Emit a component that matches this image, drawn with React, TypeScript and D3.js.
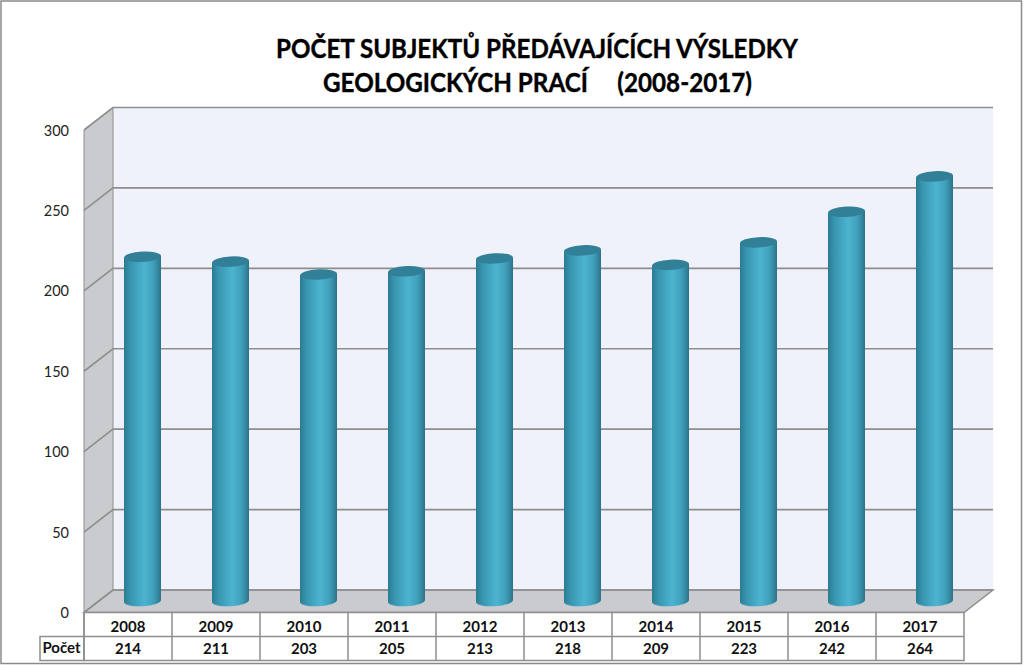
import React from "react";
import * as d3 from "d3";

const years = ["2008","2009","2010","2011","2012","2013","2014","2015","2016","2017"];
const counts = [214,211,203,205,213,218,209,223,242,264];
const ticks = [0,50,100,150,200,250,300];
const titleLines = ["POČET SUBJEKTŮ PŘEDÁVAJÍCÍCH VÝSLEDKY","GEOLOGICKÝCH PRACÍ     (2008-2017)"];
const rowLabel = "Počet";

const W = 1024, H = 665;
const x0 = 84, x1 = 964, y0 = 612.5, yTop = 130, dx = 29, dy = -22.5;
const rowH = 24;
const font = "Lato, Carlito, 'Open Sans', sans-serif";
const gridCol = "#8e8e8e";

export default function App() {
  const x = d3.scaleBand<string>().domain(years).range([x0, x1]);
  const y = d3.scaleLinear().domain([0, 300]).range([y0, yTop]);
  const rx = 18.5, ry = 5.2, tilt = 1;
  const baseOffX = 14.5, baseOffY = -11.5;
  const cell = { fontFamily: font, fontWeight: 700, fontSize: 15, fill: "#111", textAnchor: "middle" as const };
  return (
    <svg width={W} height={H} viewBox={`0 0 ${W} ${H}`}
      style={{ position: "fixed", left: 0, top: 0, display: "block", background: "#fff" }}>
      <defs>
        <linearGradient id="cyl" x1="0" x2="1" y1="0" y2="0">
          <stop offset="0" stopColor="#2b7a92" />
          <stop offset="0.15" stopColor="#3793ae" />
          <stop offset="0.55" stopColor="#4db4d0" />
          <stop offset="0.8" stopColor="#3f9fba" />
          <stop offset="0.96" stopColor="#2f7d94" />
          <stop offset="1" stopColor="#2c7086" />
        </linearGradient>
      </defs>
      <rect x={1} y={1} width={1020.5} height={662.5} fill="#fff" stroke="#8a8a8a" strokeWidth={1.5} />
      <path d={`M${x0 + dx},${y(300) + dy}H${x1 + dx}V${y0 + dy}H${x0 + dx}Z`} fill="#eff2fa" />
      <path d={`M${x0},${y(300)}L${x0 + dx},${y(300) + dy}V${y0 + dy}L${x0},${y0}Z`} fill="#c9cbcf" stroke={gridCol} strokeWidth={1} />
      <path d={`M${x0},${y0}L${x0 + dx},${y0 + dy}H${x1 + dx}L${x1},${y0}Z`} fill="#c9cbcf" stroke={gridCol} strokeWidth={1.5} />
      {ticks.map(t => (
        <g key={t}>
          <path d={`M${x0},${y(t)}L${x0 + dx},${y(t) + dy}H${x1 + dx}`} fill="none" stroke={gridCol} strokeWidth={1.6} />
          <text x={69} y={y(t) + 5.5} textAnchor="end" fontFamily={font} fontSize={14.5} fill="#222">{t}</text>
        </g>
      ))}
      {years.map((yr, i) => {
        const cx = (x(yr) as number) + x.bandwidth() / 2 + baseOffX;
        const base = y0 + baseOffY;
        const top = y(counts[i]) + baseOffY;
        return (
          <g key={yr}>
            <path d={`M${cx - rx},${top + tilt}V${base + tilt}A${rx},${ry} -3 0 0 ${cx + rx},${base - tilt}V${top - tilt}Z`} fill="url(#cyl)" />
            <ellipse cx={cx} cy={top} rx={rx} ry={ry} fill="#327f98" transform={`rotate(-3 ${cx} ${top})`} />
          </g>
        );
      })}
      <rect x={40} y={y0 + rowH} width={x0 - 40} height={rowH} fill="#fff" stroke={gridCol} strokeWidth={1.5} />
      <rect x={x0} y={y0} width={x1 - x0} height={2 * rowH} fill="#fff" stroke={gridCol} strokeWidth={1.5} />
      <path d={`M${x0},${y0 + rowH}H${x1}`} stroke={gridCol} strokeWidth={1.5} />
      <text x={61.5} y={653} {...cell}>{rowLabel}</text>
      {years.map((yr, i) => {
        const bx = x(yr) as number;
        const mid = bx + x.bandwidth() / 2;
        return (
          <g key={yr}>
            <path d={`M${bx},${y0}V${y0 + 2 * rowH}`} stroke={gridCol} strokeWidth={1.5} />
            <text x={mid} y={632} {...cell}>{yr}</text>
            <text x={mid} y={654} {...cell}>{counts[i]}</text>
          </g>
        );
      })}
      <text x={537} y={58} fontFamily={font} fontWeight={700} fontSize={27.5} fill="#000" stroke="#000" strokeWidth={0.4} textAnchor="middle"
        textLength={522} lengthAdjust="spacingAndGlyphs">{titleLines[0]}</text>
      <text x={537.5} y={91.5} fontFamily={font} fontWeight={700} fontSize={27.5} fill="#000" stroke="#000" strokeWidth={0.4} textAnchor="middle"
        xmlSpace="preserve" textLength={429} lengthAdjust="spacingAndGlyphs">{titleLines[1]}</text>
    </svg>
  );
}
